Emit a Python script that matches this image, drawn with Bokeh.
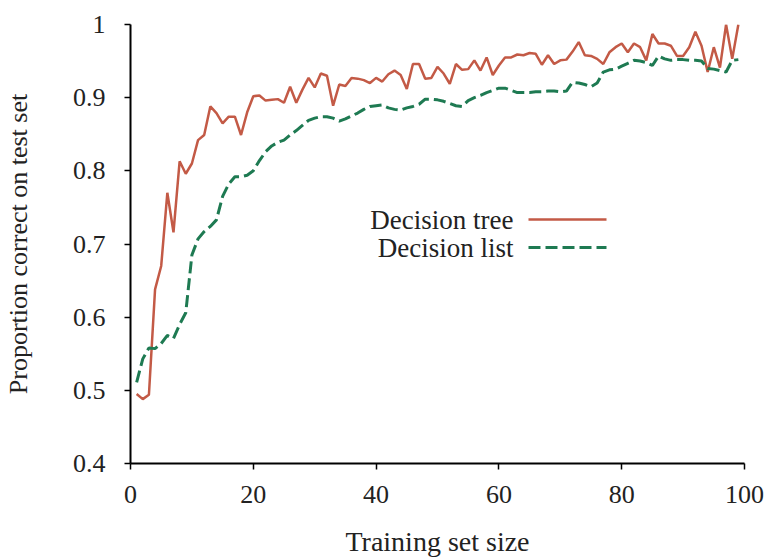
from bokeh.plotting import figure
from bokeh.models import FixedTicker, Range1d, Label, Arrow
from bokeh.embed import file_html
from bokeh.resources import INLINE

# ---- data ----
training_size = list(range(1, 100))

decision_tree = [
    0.495, 0.488, 0.494, 0.638, 0.670, 0.770, 0.716, 0.813, 0.796, 0.810,
    0.842, 0.849, 0.888, 0.879, 0.865, 0.874, 0.874, 0.849, 0.880, 0.902,
    0.903, 0.896, 0.897, 0.898, 0.893, 0.915, 0.893, 0.911, 0.927, 0.914,
    0.933, 0.930, 0.889, 0.918, 0.916, 0.927, 0.926, 0.924, 0.920, 0.927,
    0.922, 0.932, 0.937, 0.931, 0.912, 0.946, 0.946, 0.926, 0.927, 0.942,
    0.933, 0.919, 0.946, 0.938, 0.939, 0.951, 0.937, 0.955, 0.931, 0.944,
    0.955, 0.955, 0.959, 0.958, 0.961, 0.960, 0.945, 0.958, 0.946, 0.951,
    0.952, 0.963, 0.976, 0.958, 0.957, 0.953, 0.946, 0.962, 0.969, 0.974,
    0.962, 0.974, 0.969, 0.951, 0.987, 0.974, 0.974, 0.971, 0.957, 0.957,
    0.969, 0.990, 0.971, 0.935, 0.969, 0.941, 1.000, 0.953, 1.000,
]

decision_list = [
    0.511, 0.543, 0.558, 0.557, 0.564, 0.575, 0.571, 0.590, 0.606, 0.685,
    0.707, 0.717, 0.724, 0.733, 0.765, 0.782, 0.792, 0.792, 0.794, 0.800,
    0.814, 0.826, 0.834, 0.839, 0.842, 0.849, 0.855, 0.862, 0.869, 0.872,
    0.874, 0.874, 0.872, 0.868, 0.871, 0.875, 0.879, 0.884, 0.888, 0.889,
    0.890, 0.886, 0.884, 0.883, 0.886, 0.888, 0.891, 0.898, 0.898, 0.897,
    0.895, 0.892, 0.889, 0.888, 0.896, 0.900, 0.903, 0.907, 0.910, 0.913,
    0.913, 0.910, 0.907, 0.907, 0.907, 0.908, 0.908, 0.909, 0.909, 0.908,
    0.909, 0.921, 0.920, 0.918, 0.915, 0.920, 0.935, 0.938, 0.939, 0.943,
    0.947, 0.951, 0.950, 0.948, 0.944, 0.957, 0.953, 0.951, 0.952, 0.952,
    0.951, 0.951, 0.950, 0.940, 0.939, 0.937, 0.935, 0.951, 0.952,
]

x_ticks = [0, 20, 40, 60, 80, 100]
y_ticks = [0.4, 0.5, 0.6, 0.7, 0.8, 0.9, 1.0]
y_tick_labels = ["0.4", "0.5", "0.6", "0.7", "0.8", "0.9", "1"]

series_names = ["Decision tree", "Decision list"]

FONT = "Liberation Serif"
RED = "#C35A46"
GREEN = "#1E7A52"
TEXT = "#222222"

p = figure(width=773, height=559, output_backend="svg", toolbar_location=None,
           x_range=Range1d(0, 100), y_range=Range1d(0.4, 1.0),
           min_border_left=129, min_border_right=29, min_border_top=24,
           min_border_bottom=94)

p.background_fill_color = "white"
p.border_fill_color = "white"
p.outline_line_color = None
p.xgrid.visible = False
p.ygrid.visible = False

r_tree = p.line(training_size, decision_tree, line_color=RED, line_width=2.5)
r_list = p.line(training_size, decision_list, line_color=GREEN, line_width=3,
                line_dash="12 5")

for ax in (p.xaxis[0], p.yaxis[0]):
    ax.axis_line_color = "black"
    ax.axis_line_width = 2
    ax.major_tick_line_color = "black"
    ax.major_tick_line_width = 1.5
    ax.major_tick_in = 0
    ax.major_tick_out = 6
    ax.minor_tick_line_color = None
    ax.major_label_text_font = FONT
    ax.major_label_text_font_size = "26px"
    ax.major_label_text_color = TEXT
    ax.axis_label_text_font = FONT
    ax.axis_label_text_font_size = "26px"
    ax.axis_label_text_font_style = "normal"
    ax.axis_label_text_color = TEXT

p.xaxis[0].ticker = FixedTicker(ticks=x_ticks)
p.yaxis[0].ticker = FixedTicker(ticks=y_ticks)
p.yaxis[0].major_label_overrides = {t: l for t, l in zip(y_ticks, y_tick_labels)}
p.xaxis[0].axis_label = "Training set size"
p.yaxis[0].axis_label = "Proportion correct on test set"
p.xaxis[0].axis_label_text_font_size = "28px"
p.xaxis[0].major_label_standoff = 16
p.xaxis[0].axis_label_standoff = 20
p.yaxis[0].major_label_standoff = 19
p.yaxis[0].axis_label_standoff = 37

# legend: text on the left, line sample on the right (as in the reference)
legend_rows_y = [244, 216]      # screen px above the frame bottom
text_right_x = 383              # screen px right of the frame left
key_x0, key_x1 = 398, 476
styles = [dict(line_color=RED, line_width=2.5),
          dict(line_color=GREEN, line_width=3, line_dash="12 5")]

for name, ry, st in zip(series_names, legend_rows_y, styles):
    p.add_layout(Label(x=text_right_x, y=ry, x_units="screen", y_units="screen",
                       text=name, text_align="right", text_baseline="middle",
                       text_font=FONT, text_font_size="27px", text_color=TEXT))
    p.add_layout(Arrow(x_start=key_x0, y_start=ry, x_end=key_x1, y_end=ry,
                       start_units="screen", end_units="screen",
                       start=None, end=None, **st))

open("out.html", "w").write(file_html(p, INLINE))
